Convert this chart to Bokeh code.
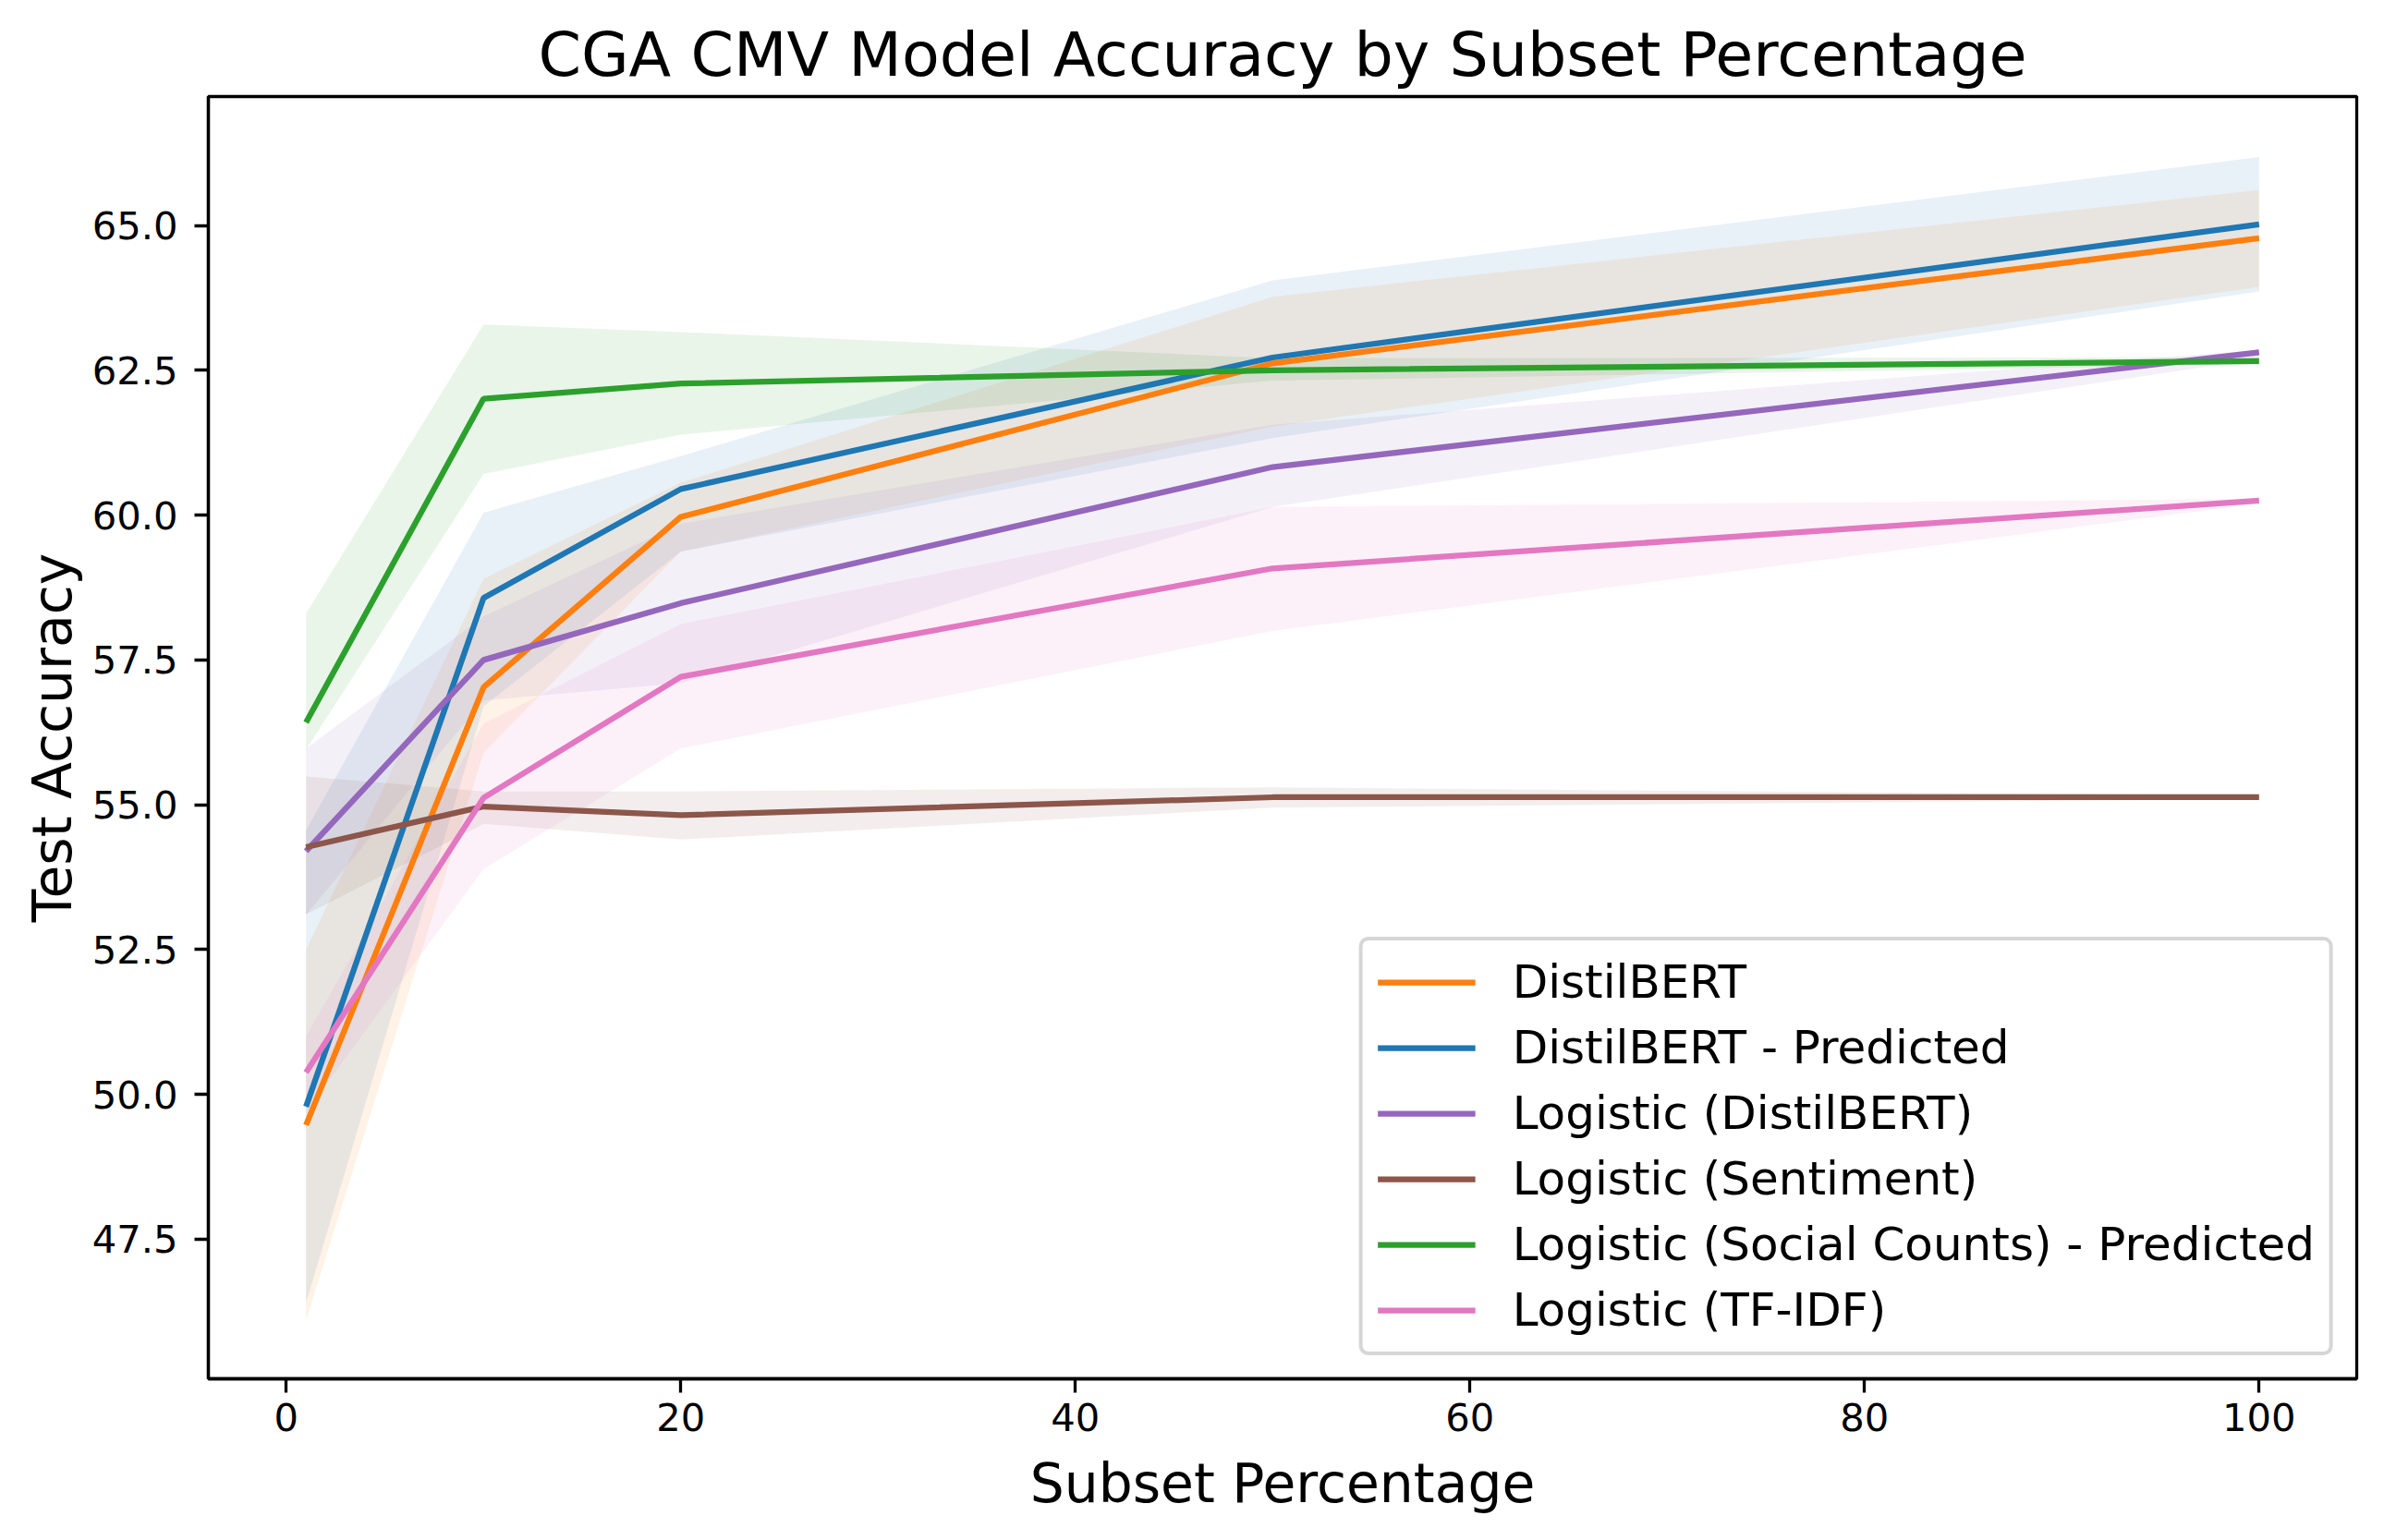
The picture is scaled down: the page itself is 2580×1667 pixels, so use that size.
from bokeh.plotting import figure
from bokeh.models import Range1d, FixedTicker, Legend, LegendItem, ColumnDataSource
from bokeh.embed import file_html
from bokeh.resources import INLINE

# ---------------- data ----------------
subset_pct = [1, 10, 20, 50, 100]

model_names = [
    "DistilBERT",
    "DistilBERT - Predicted",
    "Logistic (DistilBERT)",
    "Logistic (Sentiment)",
    "Logistic (Social Counts) - Predicted",
    "Logistic (TF-IDF)",
]
model_colors = ["#ff7f0e", "#1f77b4", "#9467bd", "#8c564b", "#2ca02c", "#e377c2"]

distilbert_mean = [49.47, 57.03, 59.97, 62.62, 64.78]
distilbert_low = [46.1, 55.9, 59.37, 61.53, 63.94]
distilbert_high = [52.5, 58.9, 60.56, 63.77, 65.61]

distilbert_pred_mean = [49.79, 58.57, 60.45, 62.72, 65.02]
distilbert_pred_low = [46.4, 56.7, 59.37, 61.33, 63.86]
distilbert_pred_high = [54.56, 60.04, 61.02, 64.05, 66.18]

log_distilbert_mean = [54.2, 57.5, 58.48, 60.83, 62.81]
log_distilbert_low = [53.1, 56.8, 57.1, 60.14, 62.7]
log_distilbert_high = [55.97, 58.25, 59.85, 61.56, 62.85]

log_sentiment_mean = [54.27, 54.97, 54.82, 55.13, 55.13]
log_sentiment_low = [53.11, 54.67, 54.4, 54.95, 55.1]
log_sentiment_high = [55.49, 55.23, 55.23, 55.30, 55.16]

log_social_mean = [56.42, 62.01, 62.27, 62.5, 62.66]
log_social_low = [55.95, 60.71, 61.39, 62.32, 62.6]
log_social_high = [58.3, 63.29, 63.16, 62.71, 62.72]

log_tfidf_mean = [50.38, 55.12, 57.21, 59.08, 60.25]
log_tfidf_low = [49.7, 53.89, 55.97, 58.0, 60.2]
log_tfidf_high = [51.0, 56.4, 58.12, 60.14, 60.28]

series_means = [distilbert_mean, distilbert_pred_mean, log_distilbert_mean,
                log_sentiment_mean, log_social_mean, log_tfidf_mean]
series_lows = [distilbert_low, distilbert_pred_low, log_distilbert_low,
               log_sentiment_low, log_social_low, log_tfidf_low]
series_highs = [distilbert_high, distilbert_pred_high, log_distilbert_high,
                log_sentiment_high, log_social_high, log_tfidf_high]

x_ticks = [0, 20, 40, 60, 80, 100]
x_tick_labels = ["0", "20", "40", "60", "80", "100"]
y_ticks = [47.5, 50.0, 52.5, 55.0, 57.5, 60.0, 62.5, 65.0]
y_tick_labels = ["47.5", "50.0", "52.5", "55.0", "57.5", "60.0", "62.5", "65.0"]

title_text = "CGA CMV Model Accuracy by Subset Percentage"
x_label = "Subset Percentage"
y_label = "Test Accuracy"

# ---------------- figure ----------------
FONT = "DejaVu Sans"

p = figure(
    width=2564, height=1651,
    x_range=Range1d(-3.95, 104.95),
    y_range=Range1d(45.092, 67.225),
    output_backend="svg",
    toolbar_location=None,
    min_border_left=225, min_border_right=14,
    min_border_top=104, min_border_bottom=159,
    title=title_text,
)
p.frame_width = 2325
p.frame_height = 1388

p.title.text_font = FONT
p.title.text_font_size = "66.7px"
p.title.text_font_style = "normal"
p.title.align = "center"
p.title.text_color = "black"
p.title.standoff = 13

p.xgrid.visible = False
p.ygrid.visible = False
p.outline_line_color = "black"
p.outline_line_width = 3.3
p.background_fill_color = "white"
p.border_fill_color = "white"

for ax in (p.xaxis[0], p.yaxis[0]):
    ax.axis_line_width = 3.3
    ax.axis_line_color = "black"
    ax.major_tick_line_width = 3.3
    ax.major_tick_line_color = "black"
    ax.major_tick_out = 15
    ax.major_tick_in = 0
    ax.minor_tick_line_color = None
    ax.major_label_text_font = FONT
    ax.major_label_text_font_size = "41.7px"
    ax.major_label_text_color = "black"
    ax.axis_label_text_font = FONT
    ax.axis_label_text_font_size = "58.3px"
    ax.axis_label_text_font_style = "normal"
    ax.axis_label_text_color = "black"

p.xaxis.ticker = FixedTicker(ticks=x_ticks)
p.xaxis.major_label_overrides = {t: l for t, l in zip(x_ticks, x_tick_labels)}
p.yaxis.ticker = FixedTicker(ticks=y_ticks)
p.yaxis.major_label_overrides = {t: l for t, l in zip(y_ticks, y_tick_labels)}
p.xaxis.axis_label = x_label
p.yaxis.axis_label = y_label
p.xaxis.major_label_standoff = 11
p.yaxis.major_label_standoff = 18
p.xaxis.axis_label_standoff = 20
p.yaxis.axis_label_standoff = 6

# bands
for name, color, lo, hi in zip(model_names, model_colors, series_lows, series_highs):
    src = ColumnDataSource(dict(x=subset_pct, lo=lo, hi=hi))
    p.varea(x="x", y1="lo", y2="hi", source=src, fill_color=color, fill_alpha=0.1)

# lines
items = []
for name, color, m in zip(model_names, model_colors, series_means):
    src = ColumnDataSource(dict(x=subset_pct, y=m))
    r = p.line(x="x", y="y", source=src, line_color=color, line_width=6.25)
    items.append(LegendItem(label=name, renderers=[r]))

legend = Legend(
    items=items,
    location="bottom_right",
    margin=25,
    padding=16,
    spacing=13,
    glyph_width=106,
    glyph_height=50,
    label_standoff=40,
    label_text_font=FONT,
    label_text_font_size="50px",
    label_text_color="black",
    border_line_color="#cccccc",
    border_line_width=4,
    border_line_alpha=0.8,
    background_fill_color="white",
    background_fill_alpha=0.8,
)
try:
    legend.border_radius = 10
except Exception:
    pass
p.add_layout(legend, "center")

open("out.html", "w").write(file_html(p, INLINE))
